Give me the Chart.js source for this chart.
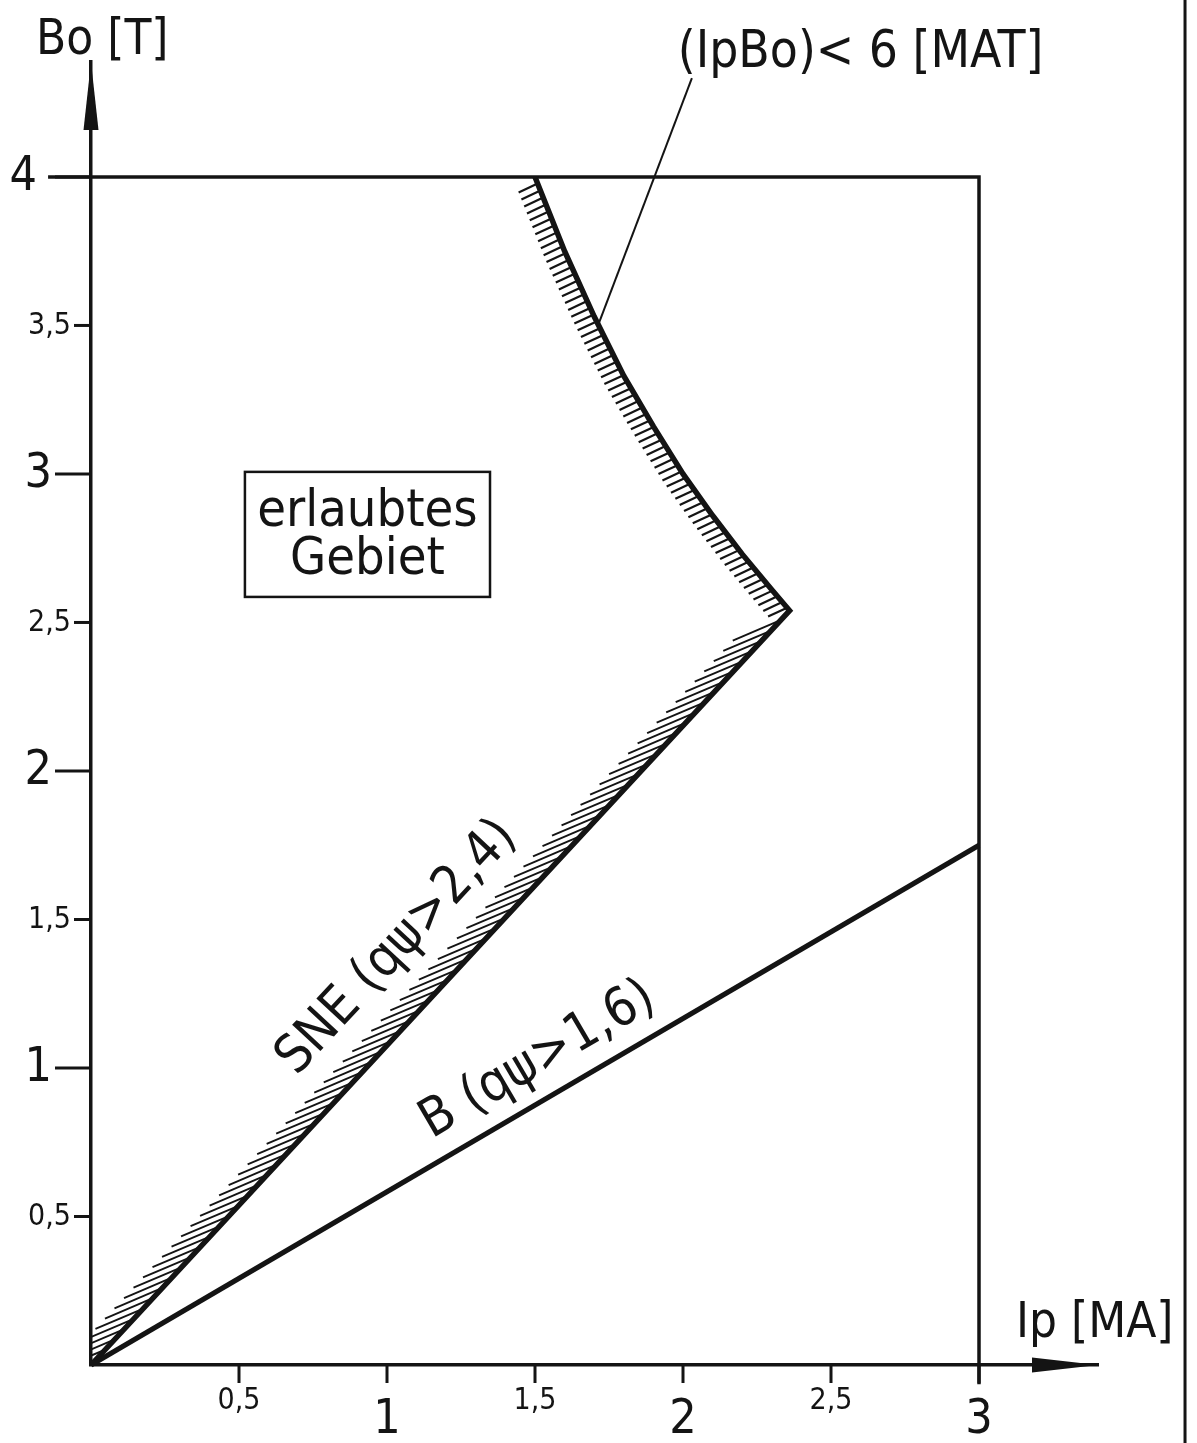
<!DOCTYPE html>
<html>
<head>
<meta charset="utf-8">
<title>Ip - Bo Betriebsbereich</title>
<script src="https://cdn.jsdelivr.net/npm/chart.js@4.4.1/dist/chart.umd.min.js"></script>
<style>
  html, body { margin: 0; padding: 0; background: #fff; }
  #wrap { width: 1197px; height: 1443px; }
</style>
</head>
<body>
<div id="wrap"><canvas id="chart" width="1197" height="1443"></canvas></div>
<script>
const FONT = "'DejaVu Sans Condensed', 'DejaVu Sans', sans-serif";
const INK = '#141414';

// axis ticks (Ip in MA, Bo in T); the axes run a bit past the last tick into the arrows
const ipTicks = [0.5, 1, 1.5, 2, 2.5, 3];
const boTicks = [0.5, 1, 1.5, 2, 2.5, 3, 3.5, 4];
const ipMax = 3.402;
const boMax = 4.387;

// SNE limit (straight) up to the corner, then the IpBo = 6 curve up to Bo = 4
const sneIp = [0, 2.36];
const sneBo = [0, 2.54];
const matIp = [2.3, 2.2, 2.1, 2.0, 1.9, 1.8, 1.7, 1.6, 1.5];
const matBo = [2.61, 2.73, 2.86, 3.0, 3.16, 3.33, 3.53, 3.75, 4.0];

// B limit
const bIp = [0, 3];
const bBo = [0, 1.75];

// frame: top line at Bo = 4 and right line at Ip = 3, plus the page edge
const frameIp = [-0.145, 3, 3];
const frameBo = [4, 4, -0.065];
const edgeIp = [3.696, 3.696];
const edgeBo = [4.6, -0.27];

// leader from the MAT label to the curve
const leaderIp = [2.03, 1.713];
const leaderBo = [4.333, 3.5];

const toPts = (xs, ys) => xs.map((x, i) => ({ x: x, y: ys[i] }));
const fmt = v => String(v).replace('.', ',');

const overlay = {
    id: 'overlay',

    beforeDatasetsDraw(chart) {
        const ctx = chart.ctx;
        const a = chart.chartArea;
        ctx.save();
        ctx.beginPath();
        ctx.rect(a.left, a.top, a.right - a.left, a.bottom - a.top);
        ctx.clip();
        ctx.strokeStyle = INK;
        ctx.lineCap = 'butt';
        chart.data.datasets.forEach((ds, di) => {
            if (!ds.hatch) return;
            const pts = chart.getDatasetMeta(di).data;
            ds.hatch.forEach(h => {
                const rad = h.angle * Math.PI / 180;
                const dx = -Math.cos(rad) * h.len;
                const dy = Math.sin(rad) * h.len;
                ctx.lineWidth = h.width;
                let carry = h.gap / 2;
                for (let i = h.from; i < h.to; i++) {
                    const p = pts[i], q = pts[i + 1];
                    const L = Math.hypot(q.x - p.x, q.y - p.y);
                    let s = carry;
                    while (s <= L) {
                        const t = s / L;
                        const x = p.x + (q.x - p.x) * t;
                        const y = p.y + (q.y - p.y) * t;
                        ctx.beginPath();
                        ctx.moveTo(x, y);
                        ctx.lineTo(x + dx, y + dy);
                        ctx.stroke();
                        s += h.gap;
                    }
                    carry = s - L;
                }
            });
        });
        ctx.restore();
    },

    afterDraw(chart) {
        const ctx = chart.ctx;
        const a = chart.chartArea;
        const sx = chart.scales.x, sy = chart.scales.y;
        const x0 = sx.getPixelForValue(0), y0 = sy.getPixelForValue(0);

        ctx.save();
        ctx.fillStyle = INK;
        ctx.strokeStyle = INK;

        // arrow heads
        ctx.beginPath();
        ctx.moveTo(x0, a.top);
        ctx.lineTo(x0 - 7.5, a.top + 68);
        ctx.lineTo(x0 + 7.5, a.top + 68);
        ctx.closePath();
        ctx.fill();
        ctx.beginPath();
        ctx.moveTo(a.right, y0);
        ctx.lineTo(a.right - 66, y0 - 7.5);
        ctx.lineTo(a.right - 66, y0 + 7.5);
        ctx.closePath();
        ctx.fill();

        // tick marks and labels
        ctx.lineWidth = 3;
        ctx.textBaseline = 'middle';
        boTicks.forEach(v => {
            const y = sy.getPixelForValue(v);
            const big = Number.isInteger(v);
            const len = big ? 36 : 17;
            ctx.beginPath();
            ctx.moveTo(x0 - len, y);
            ctx.lineTo(x0, y);
            ctx.stroke();
            ctx.font = (big ? 48 : 30) + 'px ' + FONT;
            ctx.textAlign = 'right';
            const off = v === frameBo[0] ? 54 : len + 3;
            ctx.fillText(fmt(v), x0 - off, y + 1);
        });
        ipTicks.forEach(v => {
            const x = sx.getPixelForValue(v);
            const big = Number.isInteger(v);
            ctx.beginPath();
            ctx.moveTo(x, y0);
            ctx.lineTo(x, y0 + 18);
            ctx.stroke();
            ctx.font = (big ? 48 : 30) + 'px ' + FONT;
            ctx.textAlign = 'center';
            ctx.fillText(fmt(v), x, y0 + (big ? 56 : 36));
        });

        // axis titles
        ctx.textBaseline = 'alphabetic';
        ctx.textAlign = 'left';
        ctx.font = '49px ' + FONT;
        ctx.fillText('Bo [T]', x0 - 55, a.top - 8);
        ctx.fillText('Ip [MA]', a.right - 82, y0 - 28);

        // MAT label
        ctx.textAlign = 'center';
        ctx.font = '51px ' + FONT;
        ctx.fillText('(IpBo)< 6 [MAT]', sx.getPixelForValue(2.6), sy.getPixelForValue(4.37));

        // "erlaubtes Gebiet" box
        const bx1 = sx.getPixelForValue(0.52), bx2 = sx.getPixelForValue(1.348);
        const by1 = sy.getPixelForValue(3.007), by2 = sy.getPixelForValue(2.586);
        ctx.lineWidth = 2.5;
        ctx.strokeRect(bx1, by1, bx2 - bx1, by2 - by1);
        ctx.font = '52px ' + FONT;
        ctx.textBaseline = 'middle';
        ctx.fillText('erlaubtes', (bx1 + bx2) / 2, by1 + 41);
        ctx.fillText('Gebiet', (bx1 + bx2) / 2, by1 + 89);

        // labels along the two limit lines
        const along = (text, ip, bo, p, q) => {
            const ang = Math.atan2(q.y - p.y, q.x - p.x);
            ctx.save();
            ctx.translate(sx.getPixelForValue(ip), sy.getPixelForValue(bo));
            ctx.rotate(ang);
            ctx.fillText(text, 0, 0);
            ctx.restore();
        };
        const bnd = chart.getDatasetMeta(4).data;
        const bl = chart.getDatasetMeta(3).data;
        ctx.font = '53px ' + FONT;
        along('SNE (qψ>2,4)', 1.035, 1.405, bnd[0], bnd[1]);
        along('B (qψ>1,6)', 1.51, 1.025, bl[0], bl[1]);

        ctx.restore();
    }
};

const lineSet = (data, width, extra) => Object.assign({
    data: data,
    showLine: true,
    borderColor: INK,
    borderWidth: width,
    pointRadius: 0,
    tension: 0,
    clip: false,
    borderJoinStyle: 'miter',
    borderCapStyle: 'butt'
}, extra || {});

const boundary = toPts(sneIp, sneBo).concat(toPts(matIp, matBo));

new Chart(document.getElementById('chart'), {
    type: 'scatter',
    data: {
        datasets: [
            lineSet(toPts(frameIp, frameBo), 3.5),
            lineSet(toPts(edgeIp, edgeBo), 3),
            lineSet(toPts(leaderIp, leaderBo), 2),
            lineSet(toPts(bIp, bBo), 5),
            lineSet(boundary, 5.5, {
                hatch: [
                    { from: 0, to: 1, gap: 14, len: 52, angle: 23, width: 1.9 },
                    { from: 1, to: boundary.length - 1, gap: 7.5, len: 21, angle: 25, width: 2.2 }
                ]
            })
        ]
    },
    options: {
        responsive: false,
        animation: false,
        devicePixelRatio: 1,
        layout: { padding: { left: 91, right: 99, top: 62, bottom: 78 } },
        plugins: { legend: { display: false }, tooltip: { enabled: false } },
        scales: {
            x: {
                type: 'linear',
                min: 0,
                max: ipMax,
                afterBuildTicks: s => { s.ticks = ipTicks.map(v => ({ value: v })); },
                ticks: { display: false },
                grid: { display: false, drawTicks: false },
                border: { display: true, color: INK, width: 3.5 }
            },
            y: {
                type: 'linear',
                min: 0,
                max: boMax,
                afterBuildTicks: s => { s.ticks = boTicks.map(v => ({ value: v })); },
                ticks: { display: false },
                grid: { display: false, drawTicks: false },
                border: { display: true, color: INK, width: 3.5 }
            }
        }
    },
    plugins: [overlay]
});
</script>
</body>
</html>
